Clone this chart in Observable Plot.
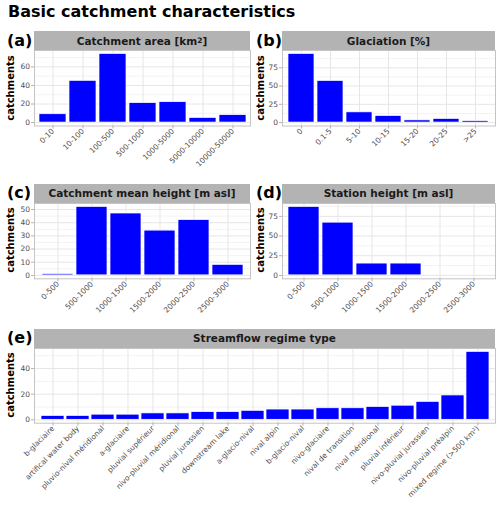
<!DOCTYPE html>
<html><head><meta charset="utf-8">
<script src="https://cdn.jsdelivr.net/npm/d3@7"></script>
<script src="https://cdn.jsdelivr.net/npm/@observablehq/plot@0.6"></script>
<style>
body{margin:0;background:#fff;font-family:"DejaVu Sans",sans-serif;}
#root{position:relative;width:500px;height:508px;overflow:hidden;background:#fff}
.abs{position:absolute}
.title{left:8px;top:4px;font-size:16px;line-height:16px;font-weight:bold;color:#000;white-space:nowrap}
.tag{font-size:16px;line-height:16px;font-weight:bold;display:flex;align-items:center;color:#000}
.strip{background:#b3b3b3;display:flex;align-items:center;justify-content:center;font-size:10.5px;font-weight:bold;color:#1a1a1a;white-space:nowrap}
.strip sup{font-size:7.5px;line-height:0;vertical-align:4px}
.ylab{font-size:10px;font-weight:bold;white-space:nowrap;transform:translate(-50%,-50%) rotate(-90deg);color:#000}
svg{overflow:visible}
</style></head>
<body><div id="root"></div>
<script>
// ---- data ----
const areaCats = ["0-10","10-100","100-500","500-1000","1000-5000","5000-10000","10000-50000"];
const areaCounts = [9,45,74,21,22,5,8];
const glacCats = ["0","0.1-5","5-10","10-15","15-20","20-25",">25"];
const glacCounts = [94,57,14,9,3,5,2];
const heightCats = ["0-500","500-1000","1000-1500","1500-2000","2000-2500","2500-3000"];
const meanHeightCounts = [1,52,47,34,42,8];
const stationHeightCounts = [87,67,15,15,0,0];
const regimeCats = ["b-glaciaire","artifical water body","pluvio-nival méridional","a-glaciaire","pluvial supérieur","nivo-pluvial méridional","pluvial jurassien","downstream lake","a-glacio-nival","nival alpin","b-glacio-nival","nivo-glaciaire","nival de transition","nival méridional","pluvial inférieur","nivo-pluvial jurassien","nivo-pluvial préalpin","mixed regime (>500 km²)"];
const regimeCounts = [3,3,4,4,5,5,6,6,7,8,8,9,9,10,11,14,19,53];
const ticksA = [0,20,40,60], minorA = [10,30,50,70];
const ticksB = [0,25,50,75], minorB = [12.5,37.5,62.5,87.5];
const ticksC = [0,10,20,30,40,50], minorC = [5,15,25,35,45];
const ticksD = [0,25,50,75], minorD = [12.5,37.5,62.5,87.5];
const ticksE = [0,20,40], minorE = [10,30,50];

const root = document.getElementById("root");
function addDiv(cls, html, st) {
  const d = document.createElement("div");
  d.className = "abs " + cls;
  d.innerHTML = html;
  Object.assign(d.style, st);
  root.appendChild(d);
  return d;
}

function panel({cats, counts, yTicks, yMinor, svgLeft, x0, x1, y0, y1, mb, strip, tag, tagLeft, stripTop, ylabX}) {
  const data = cats.map((c, i) => ({cat: c, n: counts[i]})).filter(d => d.n > 0);
  const max = d3.max(counts);
  const ml = x0 - svgLeft;
  const w = x1 + 1 - svgLeft;
  const h = 1 + (y1 - y0) + mb;
  const p = Plot.plot({
    width: w, height: h,
    marginLeft: ml, marginRight: 1, marginTop: 1, marginBottom: mb,
    style: {fontFamily: "DejaVu Sans", fontSize: "7.5px", background: "transparent", overflow: "visible"},
    x: {type: "band", domain: cats, paddingInner: 0.1, paddingOuter: 0.15, label: null},
    y: {domain: [-0.05 * max, 1.05 * max], label: null},
    marks: [
      Plot.gridY(yMinor, {stroke: "#f3f3f3", strokeOpacity: 1}),
      Plot.gridY(yTicks, {stroke: "#e6e6e6", strokeOpacity: 1}),
      Plot.gridX(cats, {stroke: "#e6e6e6", strokeOpacity: 1}),
      Plot.barY(data, {x: "cat", y: "n", fill: "#0000ff", stroke: "white", strokeWidth: 0.7}),
      Plot.frame({stroke: "#c4c4c4"}),
      Plot.axisY(yTicks, {tickSize: 3, tickFormat: () => "", color: "#b3b3b3", label: null}),
      Plot.axisY(yTicks, {tickSize: 0, tickPadding: 4.5, color: "#4d4d4d", fontSize: 7.5, label: null}),
      Plot.axisX({tickSize: 3, tickFormat: () => "", color: "#b3b3b3", label: null}),
      Plot.axisX({tickSize: 0, tickPadding: 4, tickRotate: -45, color: "#4d4d4d", fontSize: 7.5, label: null})
    ]
  });
  p.style.position = "absolute";
  p.style.left = svgLeft + "px";
  p.style.top = (y0 - 1) + "px";
  root.appendChild(p);
  addDiv("strip", strip, {left: x0 + "px", top: stripTop + "px", width: (x1 - x0) + "px", height: (y0 - stripTop) + "px"});
  addDiv("tag", tag, {left: tagLeft + "px", top: stripTop + "px", height: (y0 - stripTop) + "px"});
  addDiv("ylab", "catchments", {left: ylabX + "px", top: ((y0 + y1) / 2) + "px"});
}

addDiv("title", "Basic catchment characteristics", {});

panel({cats: areaCats, counts: areaCounts, yTicks: ticksA, yMinor: minorA, svgLeft: 0, x0: 34, x1: 250, y0: 50, y1: 125.5, mb: 45,
  strip: "Catchment area [km<sup>2</sup>]", tag: "(a)", tagLeft: 7, stripTop: 31, ylabX: 10});
panel({cats: glacCats, counts: glacCounts, yTicks: ticksB, yMinor: minorB, svgLeft: 255, x0: 282, x1: 495, y0: 50, y1: 125.5, mb: 45,
  strip: "Glaciation [%]", tag: "(b)", tagLeft: 256, stripTop: 31, ylabX: 259.5});
panel({cats: heightCats, counts: meanHeightCounts, yTicks: ticksC, yMinor: minorC, svgLeft: 0, x0: 34, x1: 250, y0: 202.5, y1: 277.8, mb: 45,
  strip: "Catchment mean height [m asl]", tag: "(c)", tagLeft: 7, stripTop: 183.5, ylabX: 10});
panel({cats: heightCats, counts: stationHeightCounts, yTicks: ticksD, yMinor: minorD, svgLeft: 255, x0: 282, x1: 495, y0: 202.5, y1: 277.8, mb: 45,
  strip: "Station height [m asl]", tag: "(d)", tagLeft: 256, stripTop: 183.5, ylabX: 259.5});
panel({cats: regimeCats, counts: regimeCounts, yTicks: ticksE, yMinor: minorE, svgLeft: 0, x0: 34, x1: 495, y0: 347.7, y1: 422.4, mb: 80,
  strip: "Streamflow regime type", tag: "(e)", tagLeft: 7, stripTop: 329.3, ylabX: 10});
</script>
</body></html>
